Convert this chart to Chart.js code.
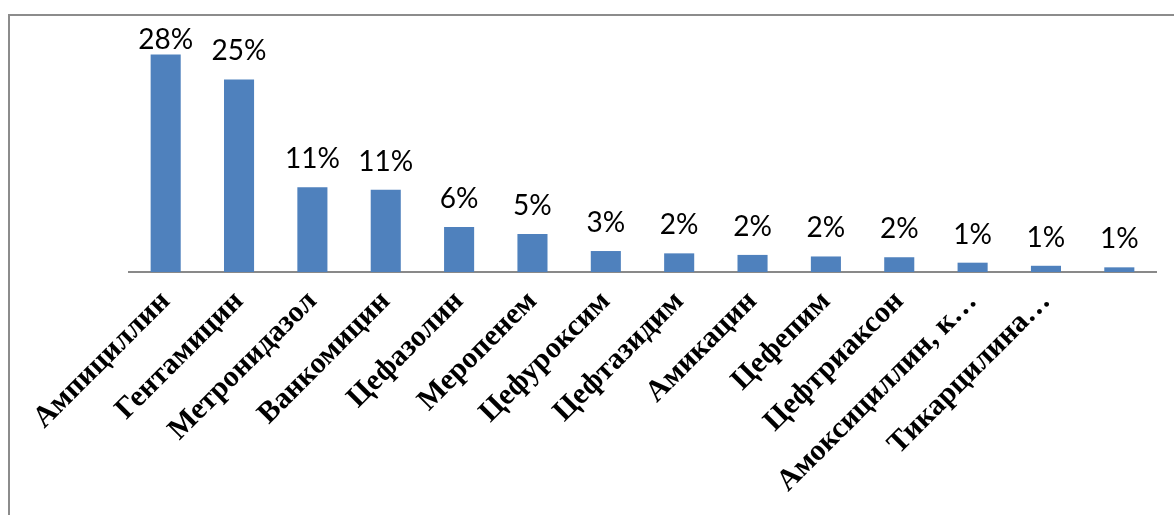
<!DOCTYPE html>
<html>
<head>
<meta charset="utf-8">
<script src="https://cdn.jsdelivr.net/npm/chart.js@4/dist/chart.umd.min.js"></script>
<style>
  html, body { margin: 0; padding: 0; background: #fff; overflow: hidden; }
  #frame { position: absolute; left: 8px; top: 14px; width: 1164px; height: 499px;
           border-left: 2px solid #8c8c8c; border-top: 2px solid #8c8c8c; }
  #chart { display: block; }
</style>
</head>
<body>
<div id="frame"><canvas id="chart" width="1164" height="499"></canvas></div>
<script>
// ── Data ────────────────────────────────────────────────────────────────
const drugs = [
  'Ампициллин', 'Гентамицин', 'Метронидазол', 'Ванкомицин', 'Цефазолин',
  'Меропенем', 'Цефуроксим', 'Цефтазидим', 'Амикацин', 'Цефепим',
  'Цефтриаксон', 'Амоксициллин, к…', 'Тикарцилина…'
];
const shares = [28.0, 24.8, 10.9, 10.6, 5.8, 4.9, 2.7, 2.4, 2.2, 2.0, 1.9, 1.2, 0.8, 0.6];
// the 14th bar has no category label in the picture
const categories = [...drugs, ''];

const BAR_BLUE  = '#4f81bd';
const AXIS_GREY = '#898989';

// labels above the bars, Excel-style (kept inside the plot area)
const valueLabels = {
  id: 'valueLabels',
  afterDatasetsDraw(chart) {
    const { ctx } = chart;
    const meta = chart.getDatasetMeta(0);
    ctx.save();
    ctx.font = '28px Lato, "Open Sans", sans-serif';
    ctx.fillStyle = '#000';
    ctx.textAlign = 'center';
    ctx.textBaseline = 'middle';
    meta.data.forEach((bar, i) => {
      const y = Math.max(bar.y - 28, 24);
      ctx.fillText(Math.round(shares[i]) + '%', bar.x, y);
    });
    ctx.restore();
  }
};

new Chart(document.getElementById('chart'), {
  type: 'bar',
  data: {
    labels: categories,
    datasets: [{ data: shares, backgroundColor: BAR_BLUE,
                 categoryPercentage: 1, barPercentage: 0.41 }]
  },
  options: {
    responsive: false, animation: false,
    layout: { padding: { left: 119, right: 18, top: 23, bottom: 0 } },
    plugins: { legend: { display: false }, tooltip: { enabled: false } },
    scales: {
      x: {
        grid: { display: false },
        border: { display: true, color: AXIS_GREY, width: 2 },
        ticks: { color: '#000', minRotation: 45, maxRotation: 45, autoSkip: false, padding: 4,
                 font: { family: '"Liberation Serif", "Times New Roman", serif', weight: 'bold', size: 30 } },
        afterFit(s) { s.height = 243; s.paddingLeft = 0; s.paddingRight = 0; }
      },
      y: { display: false, min: 0, max: 30 }
    }
  },
  plugins: [valueLabels]
});
</script>
</body>
</html>
